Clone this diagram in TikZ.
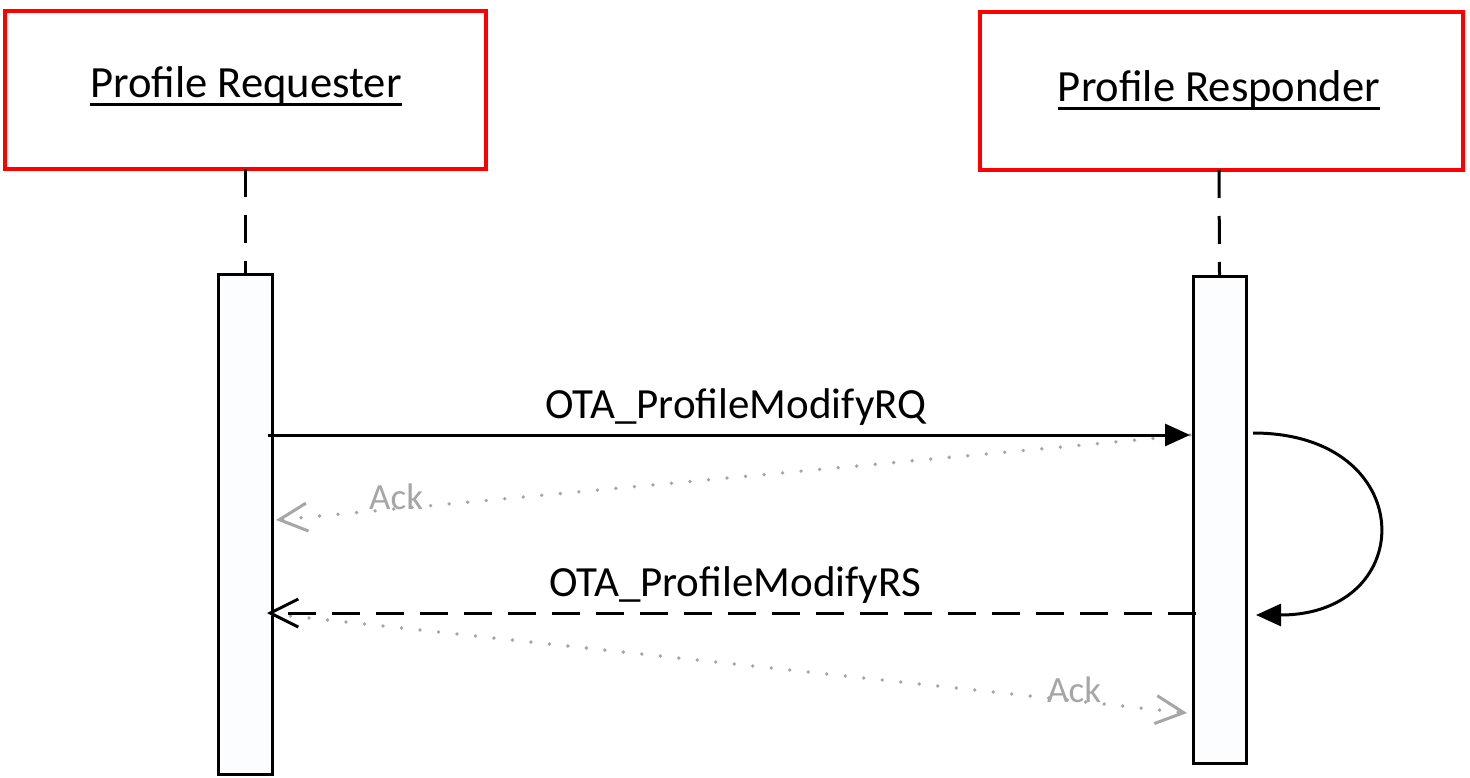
\documentclass[tikz,border=0pt]{standalone}
\usepackage{fontspec}
\setmainfont{Carlito}
\usetikzlibrary{arrows.meta}
\definecolor{ackgray}{HTML}{A6A6A6}
\definecolor{actfill}{HTML}{FCFDFF}
\tikzset{
  x=1pt, y=-1pt,
  rolebox/.style={draw=red, line width=3.5pt, fill=white},
  lifeline/.style={line width=3pt, dash pattern=on 28pt off 18pt},
  actbox/.style={draw=black, line width=3pt, fill=actfill},
  msg/.style={line width=3pt},
  reply/.style={line width=3pt, dash pattern=on 28pt off 16pt},
  ack/.style={draw=ackgray, line width=3.8pt, dash pattern=on 0pt off 18.6pt, line cap=round},
  filltip/.style={-{Triangle[length=25pt,width=22pt]}},
  graytip/.style={-{Straight Barb[length=28pt,width=28pt,line width=3pt,ackgray]}},
  blacktip/.style={-{Straight Barb[length=28pt,width=28pt,line width=3pt]}},
  title/.style={font=\fontsize{44.6}{50}\selectfont, anchor=base, inner sep=0pt},
  uline/.style={line width=3pt},
  msglabel/.style={font=\fontsize{43}{48}\selectfont, anchor=base, inner sep=0pt},
  acklabel/.style={font=\fontsize{37}{42}\selectfont, text=ackgray, anchor=base west, inner sep=0pt}
}
\begin{document}
\begin{tikzpicture}
\useasboundingbox (0,0) rectangle (1470,778);
% role boxes
\draw[rolebox] (5,11) rectangle (486,169);
\coordinate (reqbot) at (245,169);
\draw[rolebox] (980,12) rectangle (1463,170);
\coordinate (resbot) at (1219,170);
\node[title] (reqt) at (246,98) {Profile Requester};
\node[title] (rest) at (1219,102) {Profile Responder};
\draw[uline] ([yshift=-7pt]reqt.base west) -- ([yshift=-7pt]reqt.base east);
\draw[uline] ([yshift=-7pt]rest.base west) -- ([yshift=-7pt]rest.base east);
% activation boxes
\node[actbox, minimum width=54pt, minimum height=500pt, inner sep=0pt, anchor=north] (actL) at (245,273) {};
\node[actbox, minimum width=53pt, minimum height=487pt, inner sep=0pt, anchor=north] (actR) at (1219.5,275) {};
% lifelines
\draw[lifeline] (reqbot) -- (actL.north);
\draw[lifeline] (resbot) -- (actR.north);
% message points
\coordinate (rqS) at (268,435);
\coordinate (rqE) at (1190,435);
\coordinate (ack1E) at (276,520);
\coordinate (rsS) at (1196,613);
\coordinate (rsE) at (267,613);
\coordinate (ack2S) at (272,614);
\coordinate (ack2E) at (1187,713);
\coordinate (loopS) at (1253,433);
\coordinate (loopE) at (1256,615);
% ack dotted lines
\draw[ack, graytip] (rqE) -- (ack1E);
\draw[ack, graytip] (ack2S) -- (ack2E);
% messages
\draw[msg, filltip] (rqS) -- (rqE);
\draw[reply, blacktip] (rsS) -- (rsE);
% self loop
\draw[msg, filltip] (loopS) .. controls (1420,433) and (1420,615) .. (loopE);
% labels
\node[msglabel] (rqlab) at (736,418) {OTA\_ProfileModifyRQ};
\node[msglabel] (rslab) at (735,596) {OTA\_ProfileModifyRS};
\node[acklabel] (ack1lab) at (369,509) {Ack};
\node[acklabel] (ack2lab) at (1047,702) {Ack};
\end{tikzpicture}
\end{document}
